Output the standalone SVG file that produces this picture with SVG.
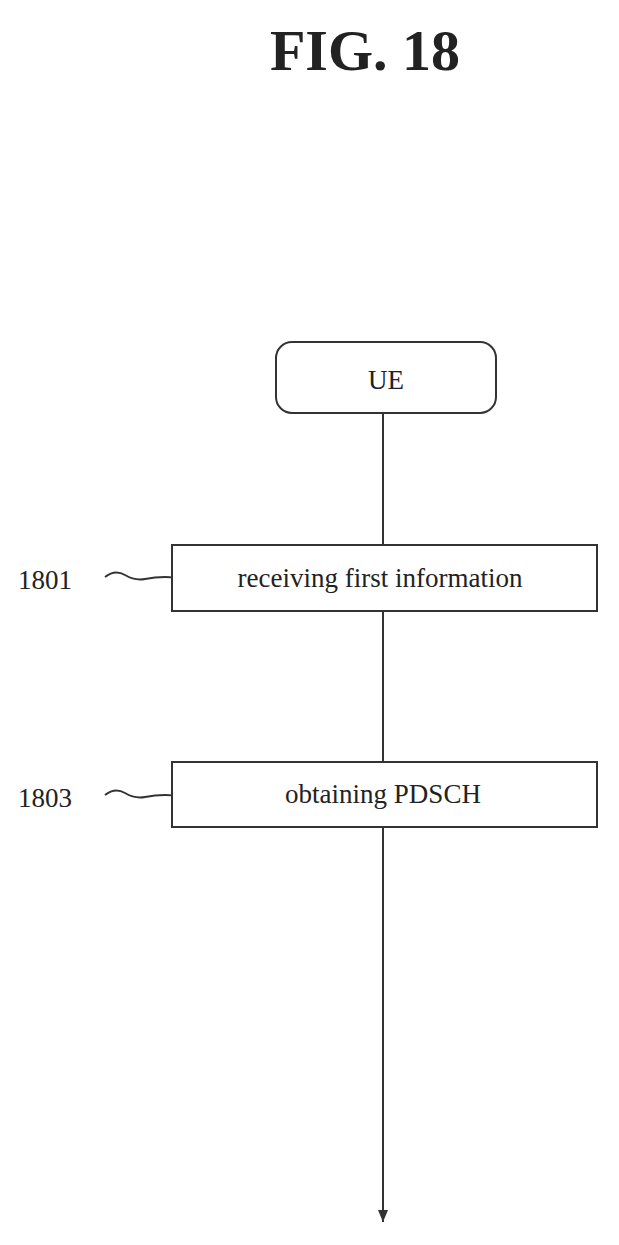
<svg xmlns="http://www.w3.org/2000/svg" width="619" height="1245" viewBox="0 0 619 1245">
<style>
text{font-family:"Liberation Serif",serif;fill:#222}
.box{fill:#fff;stroke:#333;stroke-width:2}
.ln{stroke:#333;stroke-width:2;fill:none}
</style>
<defs><marker id="ah" markerWidth="12" markerHeight="10" refX="12" refY="5" orient="auto" markerUnits="userSpaceOnUse"><path d="M0,0 L12,5 L0,10 Z" fill="#333"/></marker></defs>
<rect width="619" height="1245" fill="#fff"/>
<text x="365" y="70" font-size="58" text-anchor="middle" font-weight="bold">FIG. 18</text>
<g id="connectors">
<line class="ln" x1="383" y1="413" x2="383" y2="545"/>
<line class="ln" x1="383" y1="611" x2="383" y2="762"/>
<line class="ln" x1="383" y1="827" x2="383" y2="1222" marker-end="url(#ah)"/>
<path class="ln" d="M105,577 q10,-8 20,-2 t20,4 t20,-2 t10,2"/>
<path class="ln" d="M105,795 q10,-8 20,-2 t20,4 t20,-2 t10,2"/>
</g>
<g id="ue"><rect class="box" x="276" y="342" width="220" height="71" rx="16"/><text x="386" y="389" font-size="27" text-anchor="middle">UE</text></g>
<g id="n1801"><rect class="box" x="172" y="545" width="425" height="66"/><text x="380" y="587" font-size="27" text-anchor="middle">receiving first information</text><text x="18" y="589" font-size="27">1801</text></g>
<g id="n1803"><rect class="box" x="172" y="762" width="425" height="65"/><text x="383" y="803" font-size="27" text-anchor="middle">obtaining PDSCH</text><text x="18" y="807" font-size="27">1803</text></g>
</svg>
